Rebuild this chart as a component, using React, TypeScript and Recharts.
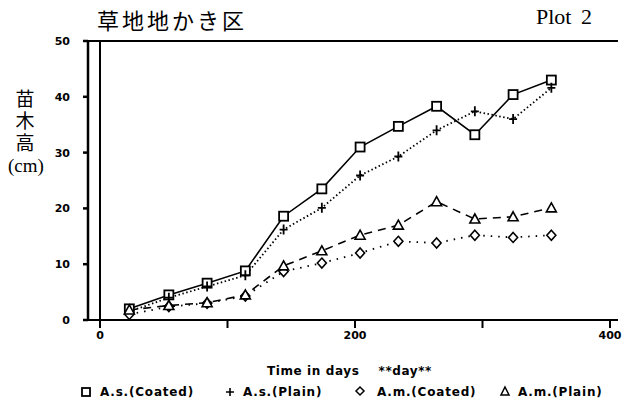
import { LineChart, Line, XAxis, YAxis, ReferenceLine } from 'recharts';

const days = [23, 54, 84, 114, 144, 174, 204, 234, 264, 294, 324, 354];
const asCoated = [2, 4.5, 6.6, 8.8, 18.6, 23.5, 31, 34.7, 38.3, 33.2, 40.4, 43];
const asPlain = [1.5, 4, 6, 8, 16.2, 20.1, 25.9, 29.3, 34, 37.4, 36, 41.6];
const amCoated = [1, 2.4, 3, 4.3, 8.7, 10.2, 12, 14.1, 13.8, 15.2, 14.8, 15.2];
const amPlain = [1.8, 2.6, 3.1, 4.5, 9.7, 12.4, 15.2, 17, 21.2, 18.1, 18.5, 20.1];
const xTicks = [0, 100, 200, 300, 400];
const yTicks = [0, 10, 20, 30, 40, 50];

const data = days.map((d, i) => ({
  day: d,
  asCoated: asCoated[i],
  asPlain: asPlain[i],
  amCoated: amCoated[i],
  amPlain: amPlain[i],
}));

const tickFont = { fontFamily: 'DejaVu Sans', fontWeight: 'bold', fontSize: 11, fill: '#000' };

const Square = (p: any) => (
  <rect key={p.index} x={p.cx - 4.5} y={p.cy - 4.5} width={9} height={9} fill="#fff" stroke="#000" strokeWidth={1.8} />
);
const Plus = (p: any) => (
  <path key={p.index} d={`M${p.cx - 4},${p.cy}H${p.cx + 4}M${p.cx},${p.cy - 5}V${p.cy + 5}`} stroke="#000" strokeWidth={1.8} />
);
const Diamond = (p: any) => (
  <path key={p.index} d={`M${p.cx},${p.cy - 5}L${p.cx + 4.5},${p.cy}L${p.cx},${p.cy + 5}L${p.cx - 4.5},${p.cy}Z`} fill="#fff" stroke="#000" strokeWidth={1.6} />
);
const Triangle = (p: any) => (
  <path key={p.index} d={`M${p.cx},${p.cy - 5}L${p.cx + 5},${p.cy + 4}L${p.cx - 5},${p.cy + 4}Z`} fill="#fff" stroke="#000" strokeWidth={1.6} />
);

const legendText = {
  position: 'absolute' as const,
  top: 384,
  fontFamily: 'DejaVu Sans',
  fontWeight: 'bold' as const,
  fontSize: 12,
  letterSpacing: 0.8,
  lineHeight: '16px',
};

export default function App() {
  return (
    <div style={{ position: 'absolute', left: 0, top: 0, width: 623, height: 410, background: '#fff' }}>
      <LineChart width={623} height={410} data={data} margin={{ top: 41, right: 5, left: 60, bottom: 65 }}>
        <XAxis
          dataKey="day"
          type="number"
          domain={[0, 400]}
          ticks={xTicks}
          padding={{ left: 12, right: 8 }}
          tickFormatter={(v: number) => (v % 200 === 0 ? String(v) : '')}
          tick={tickFont}
          tickSize={8}
          tickMargin={3}
          height={25}
          stroke="#000"
          strokeWidth={2}
        />
        <YAxis
          domain={[0, 50]}
          ticks={yTicks}
          tick={tickFont}
          tickSize={5}
          tickMargin={13}
          width={28}
          stroke="#000"
          strokeWidth={2.5}
        />
        <YAxis yAxisId="frame" orientation="right" width={0} tick={false} tickLine={false} stroke="#000" strokeWidth={2} />
        <ReferenceLine x={0} stroke="#000" strokeWidth={2} />
        <ReferenceLine y={50} stroke="#000" strokeWidth={2} />
        <Line dataKey="asCoated" stroke="#000" strokeWidth={1.6} dot={Square} isAnimationActive={false} />
        <Line dataKey="asPlain" stroke="#000" strokeWidth={1.8} strokeDasharray="1.5 2.5" dot={Plus} isAnimationActive={false} />
        <Line dataKey="amCoated" stroke="#000" strokeWidth={1.8} strokeDasharray="1.5 6" dot={Diamond} isAnimationActive={false} />
        <Line dataKey="amPlain" stroke="#000" strokeWidth={1.6} strokeDasharray="8 6" dot={Triangle} isAnimationActive={false} />
      </LineChart>

      <div style={{ position: 'absolute', left: 97, top: 4, fontFamily: 'Noto Sans CJK JP', fontSize: 22, letterSpacing: 3, lineHeight: '30px', whiteSpace: 'nowrap' }}>
        草地地かき区
      </div>
      <div style={{ position: 'absolute', left: 536, top: 6, fontFamily: 'Liberation Serif', fontSize: 22, lineHeight: 1, wordSpacing: 4 }}>
        Plot 2
      </div>
      <div style={{ position: 'absolute', left: 8, top: 87, width: 34, textAlign: 'center', fontFamily: 'Noto Sans CJK JP', fontSize: 19, lineHeight: '22px', whiteSpace: 'pre-line' }}>
        {'苗\n木\n高'}
      </div>
      <div style={{ position: 'absolute', left: 8, top: 156, width: 34, textAlign: 'center', fontFamily: 'Liberation Serif', fontSize: 19, lineHeight: '20px' }}>
        (cm)
      </div>
      <div style={{ position: 'absolute', left: 267, top: 363, fontFamily: 'DejaVu Sans', fontWeight: 'bold', fontSize: 12, letterSpacing: 0.6, lineHeight: '16px', whiteSpace: 'pre' }}>
        {'Time in days    **day**'}
      </div>

      <svg style={{ position: 'absolute', left: 0, top: 0 }} width={623} height={410}>
        <rect x={82} y={388} width={8} height={8} fill="#fff" stroke="#000" strokeWidth={1.8} />
        <path d="M226,392H234M230,388V396" stroke="#000" strokeWidth={1.6} />
        <path d="M360,387L364,391L360,395L356,391Z" fill="#fff" stroke="#000" strokeWidth={1.5} />
        <path d="M505,387L509,395L501,395Z" fill="#fff" stroke="#000" strokeWidth={1.5} />
      </svg>
      <div style={{ ...legendText, left: 100 }}>A.s.(Coated)</div>
      <div style={{ ...legendText, left: 243 }}>A.s.(Plain)</div>
      <div style={{ ...legendText, left: 377 }}>A.m.(Coated)</div>
      <div style={{ ...legendText, left: 518 }}>A.m.(Plain)</div>
    </div>
  );
}
